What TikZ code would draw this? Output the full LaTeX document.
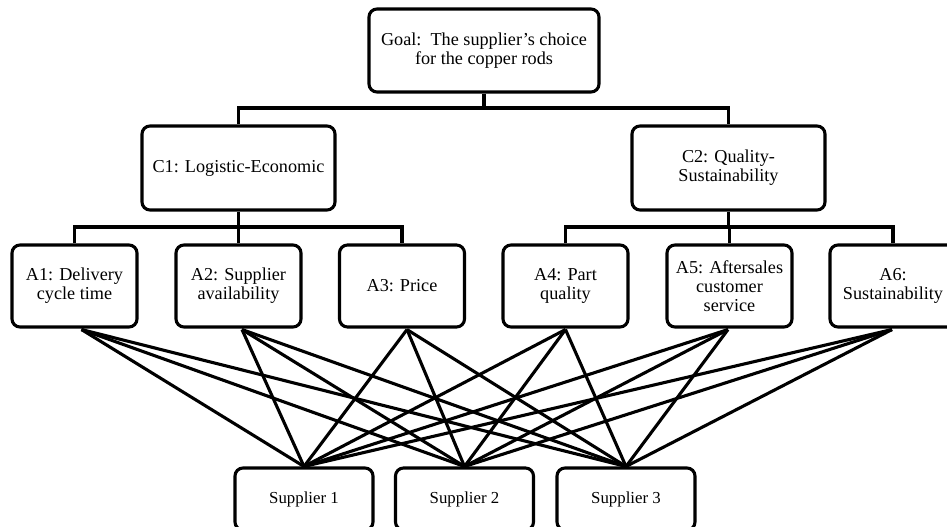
\documentclass[tikz,border=0pt]{standalone}
\usepackage{fontspec}
\setmainfont{Liberation Serif}
\begin{document}
\begin{tikzpicture}[x=1pt,y=-1pt,
  box/.style={draw=black, line width=3.1pt, rounded corners=8pt, fill=white,
    align=center, inner sep=0pt, font=\fontsize{18.2}{19.2}\selectfont},
  abox/.style={box, minimum width=125pt, minimum height=82pt},
  cbox/.style={box, minimum width=193pt, minimum height=84pt},
  sbox/.style={box, minimum width=138pt, minimum height=62pt, font=\fontsize{16.8}{19}\selectfont},
  link/.style={draw=black, line width=3.1pt},
  tree/.style={draw=black, line width=3.1pt}]
\useasboundingbox (0,0) rectangle (947,527);

% hierarchy levels
\node[box, minimum width=230pt, minimum height=83pt] (G) at (484,50.5) {Goal:\, The supplier’s choice\\for the copper rods};
\node[cbox] (C1) at (238.5,168) {C1: Logistic-Economic};
\node[cbox] (C2) at (728.5,168) {C2: Quality-\\Sustainability};

\node[abox] (A1) at (74.5,286) {A1: Delivery\\cycle time};
\node[abox] (A2) at (238.5,286) {A2: Supplier\\availability};
\node[abox] (A3) at (402,286) {A3: Price};
\node[abox] (A4) at (565.5,286) {A4: Part\\quality};
\node[abox] (A5) at (729.5,286) {A5: Aftersales\\customer\\service};
\node[abox, minimum width=126pt] (A6) at (893,286) {A6:\\Sustainability};

\node[sbox] (S1) at (304,499) {Supplier 1};
\node[sbox] (S2) at (464.5,499) {Supplier 2};
\node[sbox] (S3) at (626,499) {Supplier 3};

% bus lines of the tree
\coordinate (barG) at (0,108);
\coordinate (barC) at (0,227);
\draw[tree] (G.south) -- (G.south |- barG);
\draw[tree] (C1.north) -- (C1.north |- barG) -- (C2.north |- barG) -- (C2.north);
\draw[tree] (C1.south) -- (C1.south |- barC);
\draw[tree] (A1.north) -- (A1.north |- barC) -- (A3.north |- barC) -- (A3.north);
\draw[tree] (A2.north) -- (A2.north |- barC);
\draw[tree] (C2.south) -- (C2.south |- barC);
\draw[tree] (A4.north) -- (A4.north |- barC) -- (A6.north |- barC) -- (A6.north);
\draw[tree] (A5.north) -- (A5.north |- barC);

% origins of the alternative links under each criterion
\coordinate (p1) at ([xshift=7pt,yshift=-1pt]A1.south);
\coordinate (p2) at ([xshift=3.5pt,yshift=-1pt]A2.south);
\coordinate (p3) at ([xshift=5pt,yshift=-1pt]A3.south);
\coordinate (p4) at ([yshift=-1pt]A4.south);
\coordinate (p5) at ([xshift=-1.5pt,yshift=-1pt]A5.south);
\coordinate (p6) at ([xshift=-1pt,yshift=-1pt]A6.south);

% every criterion linked to every supplier
\begin{scope}[line join=round]
\foreach \p in {p1,p2,p3,p4,p5,p6}
  \foreach \s in {S1,S2,S3}
    \draw[link] (\p) -- (\s.north);
\end{scope}
\end{tikzpicture}
\end{document}
